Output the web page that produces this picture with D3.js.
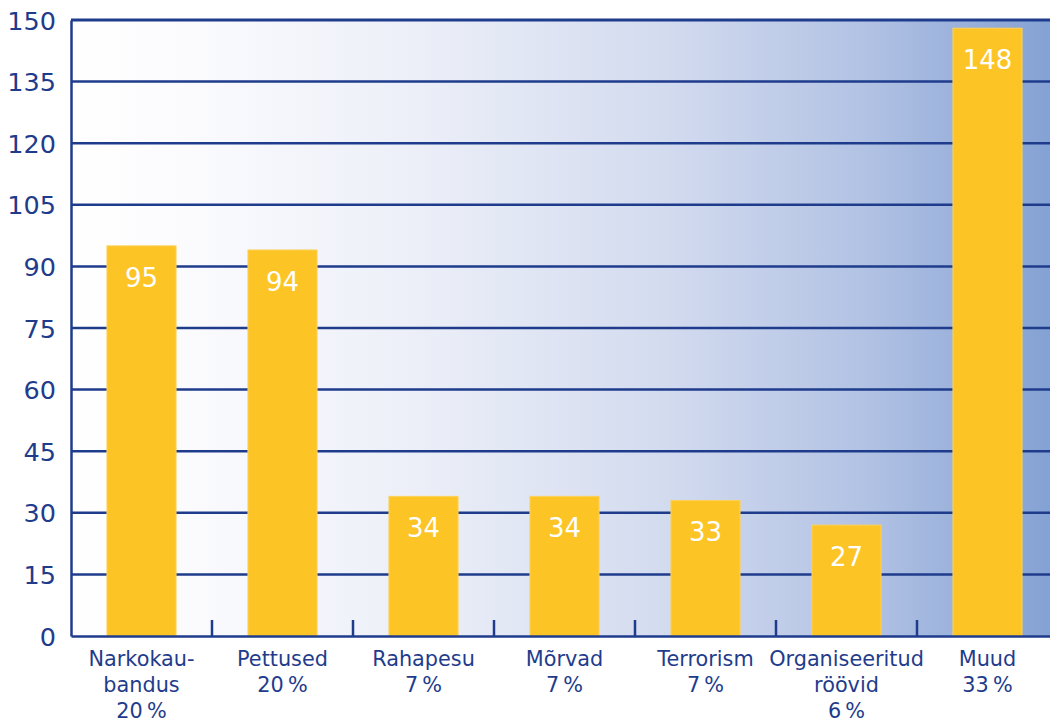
<!DOCTYPE html>
<html><head><meta charset="utf-8">
<script src="https://cdn.jsdelivr.net/npm/d3@7"></script>
<style>body{margin:0;background:#fff}svg{display:block}</style>
</head><body>
<script>
const categories = ["Narkokaubandus","Pettused","Rahapesu","Mõrvad","Terrorism","Organiseeritud röövid","Muud"];
const labelLines = [["Narkokau-","bandus","20\u2009%"],["Pettused","20\u2009%"],["Rahapesu","7\u2009%"],["Mõrvad","7\u2009%"],["Terrorism","7\u2009%"],["Organiseeritud","röövid","6\u2009%"],["Muud","33\u2009%"]];
const values = [95,94,34,34,33,27,148];
const yTicks = [0,15,30,45,60,75,90,105,120,135,150];

const W=1050,H=722;
const m={l:71,t:20,b:86};
const plotR=1058;
const navy="#1f3c8c";
const svg=d3.select("body").append("svg").attr("width",W).attr("height",H);
const defs=svg.append("defs");
const g=defs.append("linearGradient").attr("id","bg").attr("x1","0").attr("x2","1").attr("y1","0").attr("y2","0");
[[0,"#ffffff"],[0.12,"#fbfbfe"],[0.35,"#eceff8"],[0.6,"#d3dbef"],[0.8,"#b3c3e4"],[1,"#82a0d3"]].forEach(s=>g.append("stop").attr("offset",s[0]).attr("stop-color",s[1]));

const x=d3.scaleBand().domain(categories).range([m.l,plotR]).paddingInner(0).paddingOuter(0);
const y=d3.scaleLinear().domain([0,150]).range([H-m.b,m.t]);

svg.append("rect").attr("x",m.l).attr("y",m.t).attr("width",plotR-m.l).attr("height",y(0)-m.t).attr("fill","url(#bg)");

// gridlines
svg.append("g").selectAll("line").data(yTicks.filter(d=>d>0)).join("line")
 .attr("x1",m.l).attr("x2",plotR).attr("y1",d=>y(d)).attr("y2",d=>y(d))
 .attr("stroke",navy).attr("stroke-width",d=>d===150?3:2.5);

// bars
const bw=x.bandwidth()*0.49;
svg.append("g").selectAll("rect").data(values).join("rect")
 .attr("x",(d,i)=>x(categories[i])+(x.bandwidth()-bw)/2)
 .attr("width",bw).attr("y",d=>y(d)).attr("height",d=>y(0)-y(d))
 .attr("fill","#fdc425").attr("stroke","#fcd15a").attr("stroke-width",1);

// value labels
svg.append("g").selectAll("text").data(values).join("text")
 .attr("x",(d,i)=>x(categories[i])+x.bandwidth()/2)
 .attr("y",d=>y(d)+41)
 .attr("text-anchor","middle").attr("fill","#fff")
 .attr("font-family","DejaVu Sans, Verdana, sans-serif").attr("font-size",26)
 .text(d=>d);

// y axis
const ya=svg.append("g").attr("transform",`translate(${m.l},0)`)
 .call(d3.axisLeft(y).tickValues(yTicks).tickSize(0).tickPadding(15));
ya.select(".domain").attr("stroke",navy).attr("stroke-width",2.5);
ya.selectAll("text").attr("fill",navy).attr("font-family","DejaVu Sans, Verdana, sans-serif").attr("font-size",25.5).attr("dy","0.36em");

// x axis
const xa=svg.append("g").attr("transform",`translate(0,${y(0)})`)
 .call(d3.axisBottom(x).tickSize(0).tickFormat(""));
xa.select(".domain").attr("stroke",navy).attr("stroke-width",2.5);
// category boundary ticks
svg.append("g").selectAll("line").data(categories.slice(1)).join("line")
 .attr("x1",d=>x(d)).attr("x2",d=>x(d)).attr("y1",y(0)).attr("y2",y(0)-16)
 .attr("stroke",navy).attr("stroke-width",2.5);

// category labels
const cl=svg.append("g").selectAll("text").data(labelLines).join("text")
 .attr("text-anchor","middle").attr("fill",navy)
 .attr("font-family","DejaVu Sans, Verdana, sans-serif").attr("font-size",20.8);
cl.each(function(lines,i){
  d3.select(this).selectAll("tspan").data(lines).join("tspan")
   .attr("x",x(categories[i])+x.bandwidth()/2)
   .attr("y",(d,j)=>y(0)+30+j*26).text(d=>d);
});
</script>
</body></html>
